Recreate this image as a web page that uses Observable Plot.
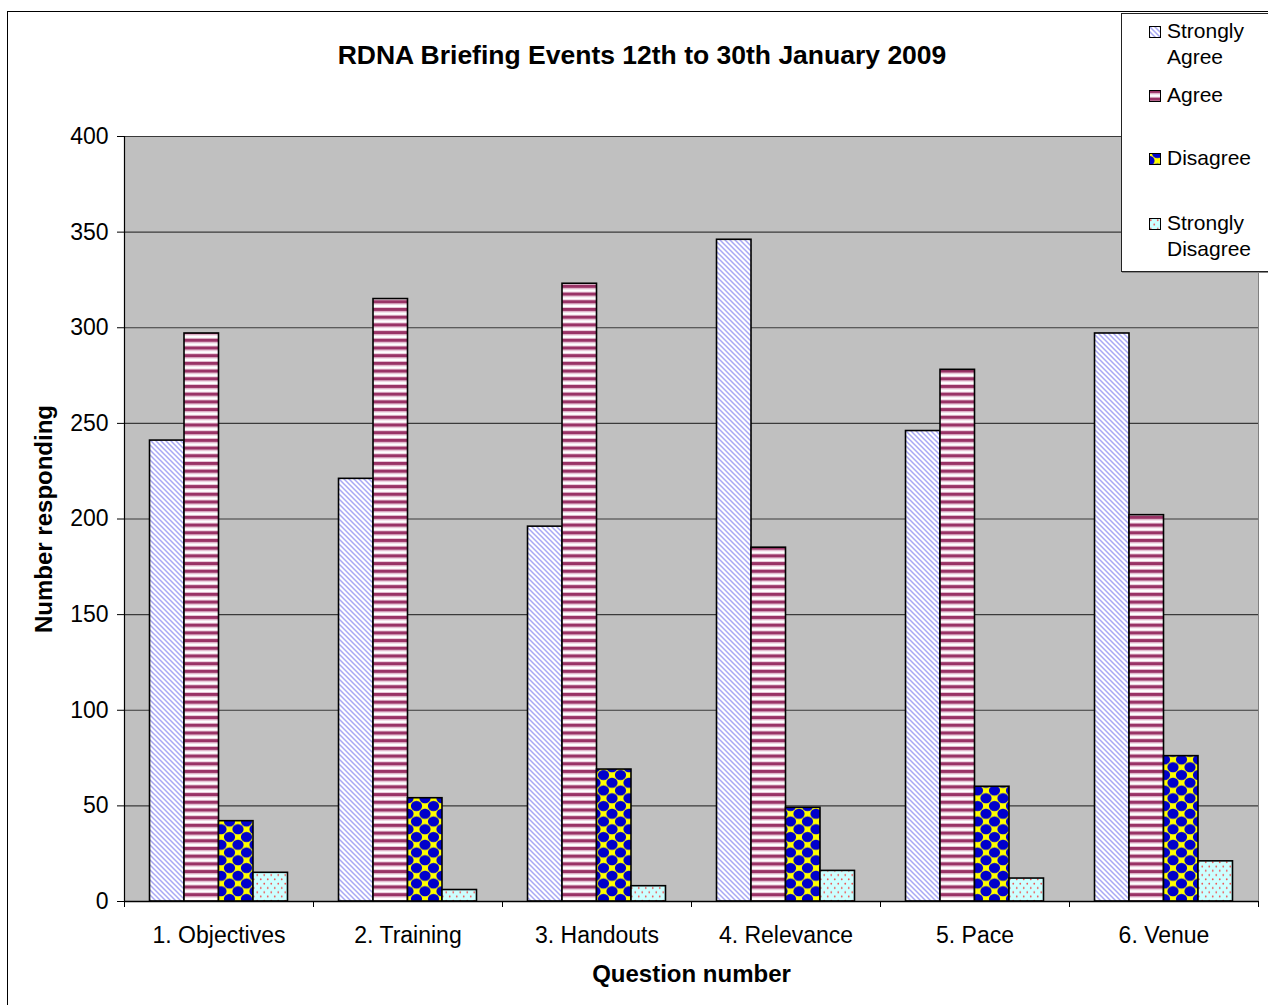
<!DOCTYPE html>
<html>
<head>
<meta charset="utf-8">
<script src="https://cdn.jsdelivr.net/npm/d3@7"></script>
<script src="https://cdn.jsdelivr.net/npm/@observablehq/plot@0.6"></script>
<style>
  body { margin: 0; background: #fff; font-family: Arial, "Liberation Sans", sans-serif; }
  #wrap { position: relative; width: 1268px; height: 1005px; overflow: hidden; }
  #border { position: absolute; left: 7px; top: 11px; width: 1320px; height: 1100px; border: 1px solid #000; }
  #chart { position: absolute; left: 0; top: 0; }
  #title { position: absolute; left: 0; top: 39px; width: 1284px; text-align: center; font-weight: bold; font-size: 26.5px; line-height: 32px; }
  #legend { position: absolute; left: 1121px; top: 13px; width: 170px; height: 257px; border: 1px solid #222; background: #fff; box-shadow: 1px 1px 0 #888; }
  .li { position: absolute; left: 1149px; font-size: 21px; line-height: 26px; color: #000; }
  .li svg { position: absolute; left: 0; }
  .li span { position: absolute; left: 18px; white-space: nowrap; }
</style>
</head>
<body>
<div id="wrap">
  <div id="border"></div>
  <div id="chart"></div>
  <div id="title">RDNA Briefing Events 12th to 30th January 2009</div>
  <div id="legend"></div>
</div>
<script>
// ---- data ----
const questions = ["1. Objectives", "2. Training", "3. Handouts", "4. Relevance", "5. Pace", "6. Venue"];
const seriesNames = ["Strongly Agree", "Agree", "Disagree", "Strongly Disagree"];
const stronglyAgree    = [241, 221, 196, 346, 246, 297];
const agree            = [297, 315, 323, 185, 278, 202];
const disagree         = [42, 54, 69, 49, 60, 76];
const stronglyDisagree = [15, 6, 8, 16, 12, 21];
const yTicks = [0, 50, 100, 150, 200, 250, 300, 350, 400];
const xLabel = "Question number";
const yLabel = "Number responding";

const patternIds = ["pSA", "pA", "pD", "pSD"];
const seriesValues = [stronglyAgree, agree, disagree, stronglyDisagree];

// table for the library
const groupStart = 0.135, barW = 0.1825;
const rows = [];
questions.forEach((q, qi) => {
  seriesNames.forEach((s, si) => {
    rows.push({q, qi, s, si, value: seriesValues[si][qi]});
  });
});

const chart = Plot.plot({
  width: 1268,
  height: 1005,
  marginLeft: 124,
  marginRight: 10,
  marginTop: 136,
  marginBottom: 104,
  style: {fontFamily: "Arial, 'Liberation Sans', sans-serif", fontSize: "23px", color: "#000", background: "transparent"},
  x: {domain: [0, questions.length], axis: null},
  y: {domain: [0, 400], axis: null},
  color: {domain: seriesNames, range: patternIds.map(id => `url(#${id})`)},
  marks: [
    Plot.frame({fill: "#c0c0c0", stroke: "#808080"}),
    Plot.gridY(yTicks, {stroke: "#3a3a3a", strokeOpacity: 1, strokeWidth: 1.2}),
    Plot.rectY(rows, {
      x1: d => d.qi + groupStart + d.si * barW,
      x2: d => d.qi + groupStart + (d.si + 1) * barW,
      y1: 0, y2: "value",
      fill: "s",
      stroke: "#000", strokeWidth: 1.6
    }),
    Plot.axisY(yTicks, {anchor: "left", tickSize: 7, tickPadding: 9, fontSize: 23, label: null, stroke: "#000"}),
    Plot.axisX(d3.range(questions.length + 1), {anchor: "bottom", tickSize: 6, tickFormat: () => "", label: null, stroke: "#000"}),
    Plot.ruleX([0], {stroke: "#000", strokeWidth: 1.2}),
    Plot.ruleY([0], {stroke: "#000", strokeWidth: 1.5}),
    Plot.text(questions, {x: (d, i) => i + 0.5, text: d => d, frameAnchor: "bottom", lineAnchor: "middle", dy: 34, fontSize: 23, fill: "#000"}),
    Plot.text([xLabel], {text: d => d, frameAnchor: "bottom", lineAnchor: "middle", dy: 73, fontSize: 24, fontWeight: "bold", fill: "#000"}),
    Plot.text([yLabel], {text: d => d, frameAnchor: "left", textAnchor: "middle", lineAnchor: "middle", dx: -80, rotate: -90, fontSize: 24, fontWeight: "bold", fill: "#000"})
  ]
});

// patterns
const defs = d3.select(chart).insert("defs", ":first-child");
function pat(id, w, h) {
  return defs.append("pattern").attr("id", id).attr("patternUnits", "userSpaceOnUse").attr("width", w).attr("height", h);
}
// Strongly Agree: light blue downward diagonals on white
let p = pat("pSA", 5, 5);
p.append("rect").attr("width", 5).attr("height", 5).attr("fill", "#fff");
p.append("path").attr("d", "M-1,-1L6,6M-1,4L1,6M4,-1L6,1").attr("stroke", "#a8a8f5").attr("stroke-width", 1.5);
// Agree: maroon horizontal stripes
p = pat("pA", 8, 7.7);
p.append("rect").attr("width", 8).attr("height", 7.7).attr("fill", "#fff");
p.append("rect").attr("y", 0).attr("width", 8).attr("height", 3).attr("fill", "#993366");
p.append("rect").attr("y", 3).attr("width", 8).attr("height", 1.2).attr("fill", "#d9a3bf");
p.append("rect").attr("y", 6.8).attr("width", 8).attr("height", 0.9).attr("fill", "#e6c0d3");
// Disagree: yellow concave diamonds / blue circles, diagonal checker
const dW = 17, dH = 15.5;
p = pat("pD", dW, dH);
p.append("rect").attr("width", dW).attr("height", dH).attr("fill", "#ffff00");
[[dW / 2, 0], [dW / 2, dH], [0, dH / 2], [dW, dH / 2]].forEach(([cx, cy]) =>
  p.append("ellipse").attr("cx", cx).attr("cy", cy).attr("rx", dW * 0.33).attr("ry", dH * 0.33).attr("fill", "#0000cc"));
// Strongly Disagree: red dots on light cyan
p = pat("pSD", 7, 8.6);
p.append("rect").attr("width", 7).attr("height", 8.6).attr("fill", "#ccffff");
p.append("circle").attr("cx", 1.75).attr("cy", 2.1).attr("r", 0.9).attr("fill", "#f05050");
p.append("circle").attr("cx", 5.25).attr("cy", 6.4).attr("r", 0.9).attr("fill", "#f05050");

document.getElementById("chart").appendChild(chart);

// legend
const legendItems = [
  {lines: ["Strongly", "Agree"], top: 18},
  {lines: ["Agree"], top: 82},
  {lines: ["Disagree"], top: 145},
  {lines: ["Strongly", "Disagree"], top: 210}
];
const wrap = document.getElementById("wrap");
legendItems.forEach((it, i) => {
  const div = document.createElement("div");
  div.className = "li";
  div.style.top = it.top + "px";
  div.innerHTML = `<svg width="12" height="12" style="top:8px"><rect x="0.5" y="0.5" width="11" height="11" fill="url(#${patternIds[i]})" stroke="#000" stroke-width="1"/></svg>` +
    it.lines.map((l, j) => `<span style="top:${j * 26}px">${l}</span>`).join("");
  wrap.appendChild(div);
});
</script>
</body>
</html>
